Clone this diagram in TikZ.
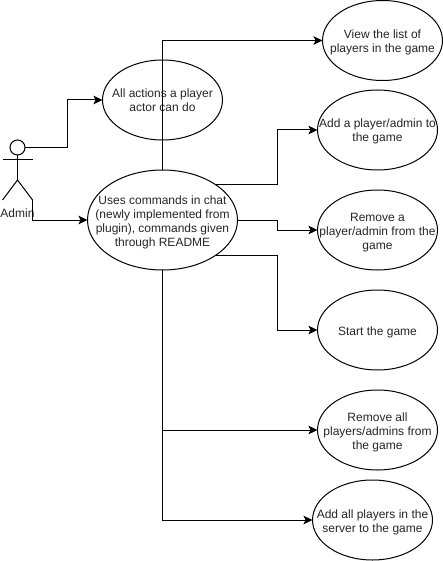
\documentclass[tikz,border=0pt]{standalone}
\usepackage{fontspec}
\setmainfont{Liberation Sans}
\usetikzlibrary{shapes.geometric,arrows.meta}
\newcommand{\uctext}[1]{\makebox[0pt]{\smash{\raisebox{-5.2pt}{\begin{tabular}[c]{@{}c@{}}#1\end{tabular}}}}}
\tikzset{
  uc/.style={draw=black,ellipse,line width=1pt,inner sep=0pt,outer sep=0pt,minimum width=120pt,minimum height=80pt,font=\fontsize{12pt}{14pt}\selectfont,text=black!85},
  conn/.style={draw=black,line width=1pt,-{Stealth[length=9pt,width=8.5pt,inset=2pt]}},
  plainline/.style={draw=black,line width=1pt},
}
\begin{document}
\begin{tikzpicture}[x=1pt,y=-1pt]
\useasboundingbox (0,0) rectangle (443,561);
\fill[white] (0,0) rectangle (443,561);
\node[uc] (actions) at (162.5,100) {\uctext{All actions a player\\actor can do}};
\node[uc,minimum width=150pt,minimum height=100pt] (uses) at (162.5,220) {\uctext{Uses commands in chat\\(newly implemented from\\plugin), commands given\\through README}};
\node[uc] (view) at (382.5,40.5) {\uctext{View the list of\\players in the game}};
\node[uc] (add) at (377.5,130) {\uctext{Add a player/admin to\\the game}};
\node[uc] (remove) at (377.5,230) {\uctext{Remove a\\player/admin from the\\game}};
\node[uc] (start) at (377.5,330) {\uctext{Start the game}};
\node[uc] (removeall) at (377.5,430) {\uctext{Remove all\\players/admins from\\the game}};
\node[uc] (addall) at (372.5,520) {\uctext{Add all players in the\\server to the game}};
% actor
\node[draw=black,circle,line width=1pt,minimum size=15pt,inner sep=0pt,outer sep=0pt] (head) at (17.5,147.5) {};
\coordinate (hip) at (17.5,180);
\coordinate (armL) at (2.5,160);
\coordinate (armR) at (32.5,160);
\coordinate (legL) at (2.5,200);
\coordinate (legR) at (32.5,200);
\draw[plainline] (head.south) -- (hip);
\draw[plainline] (armL) -- (armR);
\draw[plainline,line join=miter] (legL) -- (hip) -- (legR);
\node[font=\fontsize{12pt}{14pt}\selectfont,text=black!85,inner sep=0pt] (admin) at (17.5,213.5) {Admin};
% bends
\coordinate (b1) at (67.5,100);
\coordinate (b2) at (277.5,130);
\coordinate (b3) at (277.5,230);
\coordinate (b4) at (277.5,330);
% connectors
\draw[conn] (head.east) -| (b1) -- (actions.west);
\draw[conn] (legR) |- (uses.west);
\draw[conn] (uses.north) |- (view.west);
\draw[conn] (uses.north east) -| (b2) -- (add.west);
\draw[conn] (uses.east) -| (b3) -- (remove.west);
\draw[conn] (uses.south east) -| (b4) -- (start.west);
\draw[conn] (uses.south) |- (removeall.west);
\draw[conn] (uses.south) |- (addall.west);
\end{tikzpicture}
\end{document}
